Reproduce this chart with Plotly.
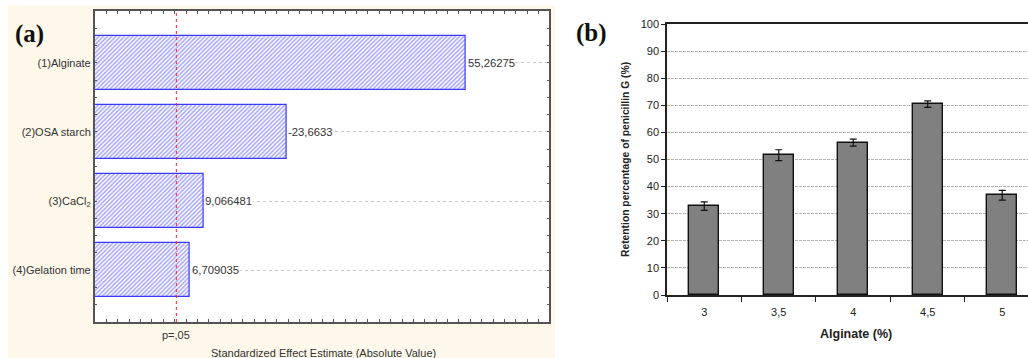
import plotly.graph_objects as go

# ---------- data ----------
factors = ["(1)Alginate", "(2)OSA starch", "(3)CaCl<sub>2</sub>", "(4)Gelation time"]
effects = [55.26275, -23.6633, 9.066481, 6.709035]
p05 = 4.30

alginate_levels = ["3", "3,5", "4", "4,5", "5"]
retention = [32.8, 51.6, 56.2, 70.4, 36.8]
retention_err = [1.6, 2.0, 1.3, 1.2, 1.8]

# ---------- layout helpers ----------
W, H = 1028, 358
def px(x): return x / W
def py(y): return 1 - y / H

X_MIN, X_MAX = -10.06, 69.9
FONT = "Arial, Liberation Sans, sans-serif"

fig = go.Figure()

# (a) pareto chart
abs_eff = [abs(v) for v in effects]
fig.add_trace(go.Bar(
    y=list(range(len(factors))), x=[v - X_MIN for v in abs_eff], base=X_MIN,
    orientation="h", width=0.79,
    marker=dict(color="white", line=dict(color="#3a3aff", width=1.2),
                pattern=dict(shape="/", fgcolor="#4a4aff", bgcolor="white", size=3, solidity=0.5)),
    xaxis="x", yaxis="y", showlegend=False, hoverinfo="skip",
))

# (b) bar chart
fig.add_trace(go.Bar(
    x=alginate_levels, y=retention, width=0.40,
    marker=dict(color="#808080", line=dict(color="#111111", width=1.4)),
    error_y=dict(type="data", array=retention_err, color="#111111", thickness=1.2, width=3.5),
    xaxis="x2", yaxis="y2", showlegend=False, hoverinfo="skip",
))

annotations = []
for i, v in enumerate(effects):
    annotations.append(dict(x=abs(v), y=i, xref="x", yref="y", xanchor="left", yanchor="middle",
                            text=f"{v}".replace(".", ","), showarrow=False, xshift=1,
                            bgcolor="white", borderpad=0,
                            font=dict(family=FONT, size=11.3, color="#333333")))

def note(x, y, text, size, color="#333333", family=FONT, **kw):
    return dict(x=px(x), y=py(y), xref="paper", yref="paper", xanchor="center", yanchor="middle",
                text=text, showarrow=False, font=dict(family=family, size=size, color=color), **kw)

annotations += [
    dict(x=p05, y=py(335), xref="x", yref="paper", xanchor="center", yanchor="middle",
         text="p=,05", showarrow=False, font=dict(family=FONT, size=11, color="#333333")),
    note(323, 353, "Standardized Effect Estimate (Absolute Value)", 11),
    note(29, 34, "<b>(a)</b>", 25, "#111111", "Liberation Serif, Times New Roman, serif"),
    note(591, 33, "<b>(b)</b>", 25, "#111111", "Liberation Serif, Times New Roman, serif"),
    note(625, 160, "<b>Retention percentage of penicillin G (%)</b>", 10.3, "#222222", textangle=-90),
    note(856, 334, "<b>Alginate (%)</b>", 12.5, "#222222"),
]

shapes = [
    dict(type="rect", xref="paper", yref="paper", x0=px(8), x1=px(555), y0=0, y1=py(5),
         fillcolor="#fdf8ea", line=dict(width=0), layer="below"),
    dict(type="rect", xref="paper", yref="paper", x0=px(94.7), x1=px(549.3), y0=py(322), y1=py(11),
         fillcolor="white", line=dict(width=0), layer="below"),
    dict(type="line", xref="x", yref="y domain", x0=p05, x1=p05, y0=0, y1=1,
         line=dict(color="#ff2020", width=1, dash="dot"), layer="above"),
]

fig.update_layout(
    width=W, height=H, margin=dict(l=0, r=0, t=0, b=0, autoexpand=False),
    paper_bgcolor="white", plot_bgcolor="rgba(0,0,0,0)",
    bargap=0, font=dict(family=FONT, color="#333333"),
    annotations=annotations, shapes=shapes,
    xaxis=dict(domain=[px(94.7), px(549.3)], range=[X_MIN, X_MAX], anchor="y", automargin=False,
               showgrid=False, zeroline=False, showticklabels=False,
               ticks="inside", tick0=0, dtick=2, ticklen=3, tickcolor="#555555",
               showline=True, linecolor="#555555", linewidth=1.5, mirror="ticks"),
    yaxis=dict(domain=[py(322), py(11)], range=[3.75, -0.75], anchor="x", automargin=False,
               tickvals=list(range(len(factors))), ticktext=factors,
               ticks="inside", ticklen=3, tickcolor="#555555",
               minor=dict(dtick=0.25, tick0=0, ticks="inside", ticklen=3, tickcolor="#555555", showgrid=False),
               showgrid=True, gridcolor="#c8c8c8", griddash="dot", gridwidth=1,
               zeroline=False, showline=True, linecolor="#555555", linewidth=1.5, mirror="ticks",
               tickfont=dict(family=FONT, size=11, color="#333333")),
    xaxis2=dict(domain=[px(667), 1.0], range=[-0.5, 4.346], anchor="y2", type="category", automargin=False,
                tickson="boundaries", ticks="outside", ticklen=5, tickcolor="#222222",
                showline=True, linecolor="#222222", linewidth=1.5, mirror=True,
                showgrid=False, zeroline=False, ticklabelstandoff=6,
                tickfont=dict(family=FONT, size=11, color="#222222")),
    yaxis2=dict(domain=[py(295), py(24)], range=[0, 100], anchor="x2", dtick=10, automargin=False,
                ticks="outside", ticklen=4, tickcolor="#222222",
                showline=True, linecolor="#222222", linewidth=1.5,
                showgrid=True, gridcolor="#b4b4b4", griddash="3px,1px", gridwidth=1,
                zeroline=False, tickfont=dict(family=FONT, size=11, color="#222222")),
)

fig.write_html("out.html", config={"displayModeBar": False},
               post_script="document.body.style.margin='0px';document.body.style.overflow='hidden';")
